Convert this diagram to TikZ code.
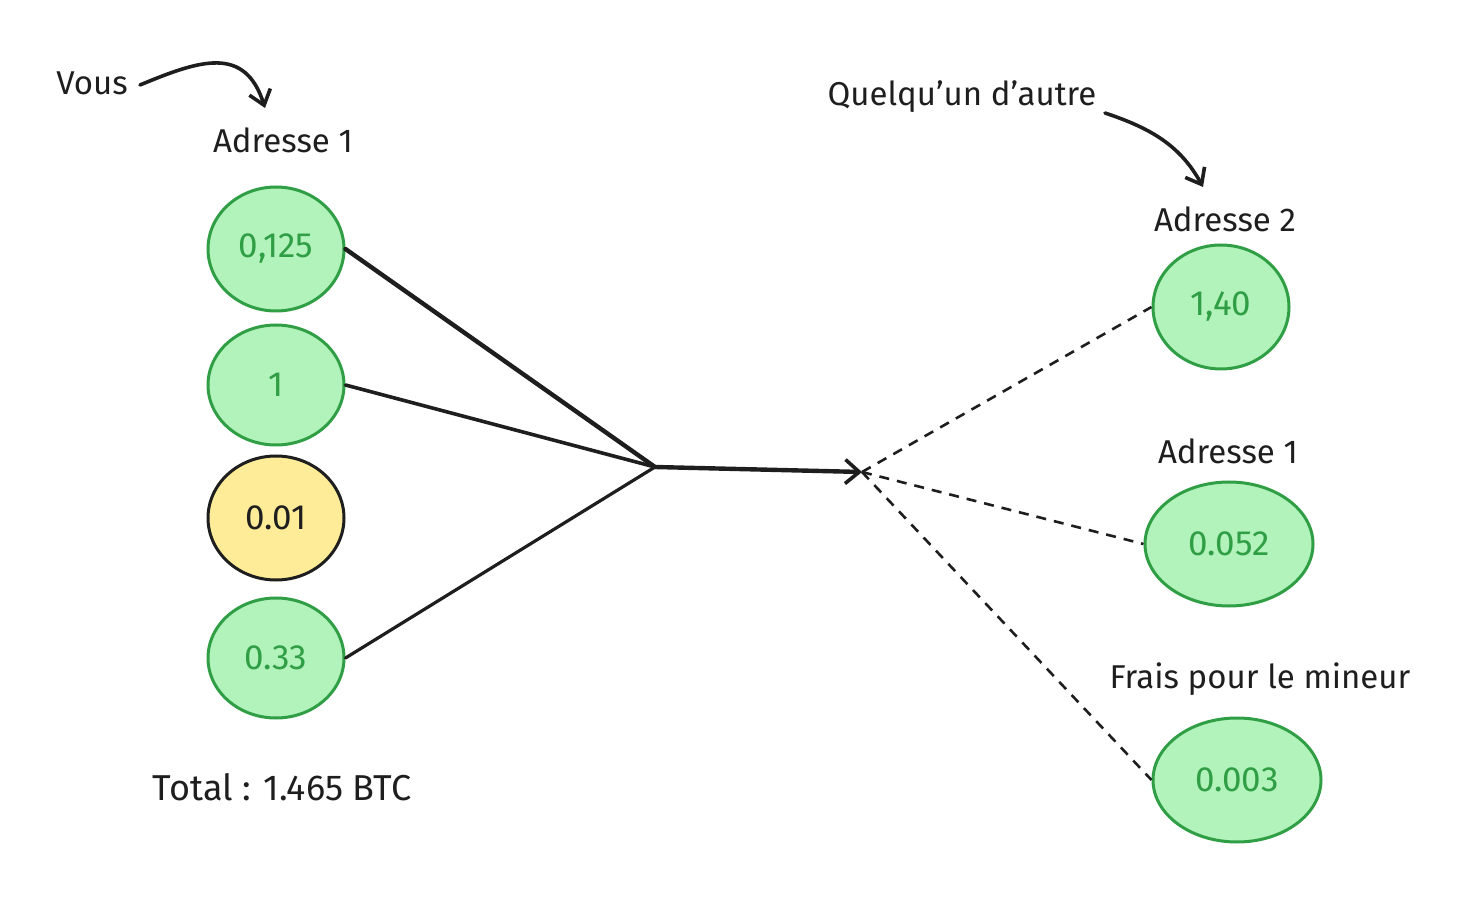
\documentclass[tikz,border=0pt]{standalone}
\usepackage{fontspec}
\setmainfont{Fira Sans}
\usetikzlibrary{shapes.geometric,arrows.meta}
\definecolor{gfill}{HTML}{B2F2BB}
\definecolor{gdraw}{HTML}{2F9E44}
\definecolor{yfill}{HTML}{FFEC99}
\definecolor{ink}{HTML}{1E1E1E}
\tikzset{
  coin/.style={ellipse, draw=gdraw, fill=gfill, line width=1.5pt, inner sep=0pt,
    text=gdraw, font=\fontsize{17.5}{20}\selectfont, minimum width=68pt, minimum height=62pt},
  ycoin/.style={coin, draw=ink, fill=yfill, text=ink},
  lbl/.style={text=ink, font=\fontsize{16.5}{19}\selectfont, inner sep=0pt},
  link/.style={draw=ink, line width=1.8pt, line cap=round},
  dlink/.style={draw=ink, line width=1.3pt, dash pattern=on 5pt off 4pt},
  curvy/.style={draw=ink, line width=1.8pt, line cap=round, -{Straight Barb[length=7pt,width=11pt,line width=1.8pt]}}
}
\begin{document}
\begin{tikzpicture}[x=0.5pt,y=-0.5pt]
\useasboundingbox (0,0) rectangle (1484,898);
% left side
\node[lbl] (vous) at (92,83) {Vous};
\node[lbl] (a1lab) at (283,140) {Adresse 1};
\node[coin] (c1) at (276,249) {0,125};
\node[coin, minimum height=60pt] (c2) at (276,385) {1};
\node[ycoin] (c3) at (276,518) {0.01};
\node[coin, minimum height=60pt] (c4) at (276,658) {0.33};
\node[lbl, font=\fontsize{18}{21}\selectfont] (total) at (282,787) {Total : 1.465 BTC};
\coordinate (vousend) at (265,108);
\draw[curvy] (140,85) .. controls (200,60) and (245,45) .. (vousend);
% junction
\coordinate (J) at (655,467);
\coordinate (K) at (862,472);
\draw[link, line width=2.2pt] (c1.east) -- (J);
\draw[link] (c2.east) -- (J);
\draw[link, line width=1.6pt] (c4.east) -- (J);
\draw[link, line width=2.2pt, -{Straight Barb[length=7pt,width=12pt,line width=1.8pt]}] (J) -- (K);
% right side
\node[lbl] (qa) at (962,97) {Quelqu'un d'autre};
\coordinate (qaend) at (1203,187);
\draw[curvy] (1105,113) .. controls (1150,128) and (1180,145) .. (qaend);
\node[lbl] (a2lab) at (1225,219) {Adresse 2};
\node[coin] (r1) at (1221,307) {1,40};
\node[lbl] (a1rlab) at (1228,451) {Adresse 1};
\node[coin, minimum width=84pt] (r2) at (1229,544) {0.052};
\node[lbl] (frais) at (1260,679) {Frais pour le mineur};
\node[coin, minimum width=84pt] (r3) at (1237,780) {0.003};
\draw[dlink] (K) -- (r1.west);
\draw[dlink] (K) -- (r2.west);
\draw[dlink] (K) -- (r3.west);
\end{tikzpicture}
\end{document}
